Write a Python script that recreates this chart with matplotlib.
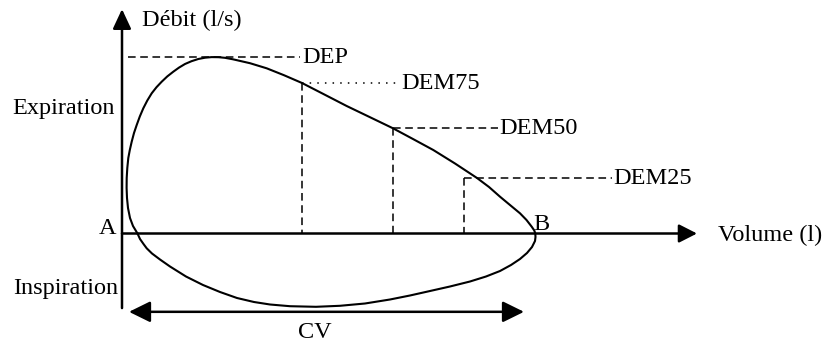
import matplotlib
matplotlib.use("Agg")
import matplotlib.pyplot as plt

plt.rcParams["font.family"] = ["Liberation Serif", "DejaVu Serif"]

# Courbe débit-volume (boucle), relevée sur le schéma
# expiration : de A vers B (au-dessus de l'axe), inspiration : de B vers A
volume = [0.155, 0.110, 0.080, 0.060, 0.050, 0.046, 0.047, 0.053, 0.063, 0.078,
          0.097, 0.120, 0.147, 0.178, 0.213, 0.253, 0.297, 0.345, 0.397, 0.453,
          0.513, 0.570, 0.630, 0.695, 0.763, 0.830, 0.897, 0.965, 1.030, 1.110,
          1.280, 1.447, 1.620, 1.800, 2.020, 2.247, 2.480, 2.710, 2.910, 3.113,
          3.330, 3.550, 3.670, 3.780, 3.880, 3.980, 4.045, 4.097, 4.123, 4.133,
          4.135, 4.130, 4.100, 4.050, 3.980, 3.890, 3.780, 3.640, 3.480, 3.280,
          3.080, 2.880, 2.680, 2.430, 2.180, 1.940, 1.680, 1.480, 1.320, 1.150,
          0.980, 0.810, 0.640, 0.480, 0.380, 0.300, 0.247, 0.215, 0.180, 0.155]
flow = [0.000, 0.341, 0.705, 1.159, 1.614, 2.068, 2.523, 2.977, 3.432, 3.795,
        4.173, 4.568, 4.932, 5.318, 5.691, 6.045, 6.373, 6.650, 6.900, 7.141,
        7.355, 7.541, 7.705, 7.832, 7.932, 7.991, 8.018, 8.014, 7.986, 7.918,
        7.741, 7.509, 7.195, 6.841, 6.327, 5.795, 5.286, 4.782, 4.295, 3.795,
        3.182, 2.523, 2.114, 1.673, 1.295, 0.918, 0.614, 0.309, 0.136, 0.000,
        -0.159, -0.341, -0.614, -0.886, -1.159, -1.432, -1.705, -1.955, -2.182, -2.409,
        -2.614, -2.818, -3.000, -3.182, -3.286, -3.332, -3.305, -3.227, -3.114, -2.932,
        -2.659, -2.341, -1.955, -1.500, -1.182, -0.909, -0.673, -0.477, -0.250, 0.000]

# débits mesurés (volume du point, débit)
dem_labels = ["DEM75", "DEM50", "DEM25"]
dem_volume = [1.80, 2.71, 3.42]
dem_flow = [6.84, 4.78, 2.52]
dem_line_end = [2.78, 3.76, 4.90]

dep = max(flow)

fig = plt.figure(figsize=(8.26, 3.42), dpi=100)
ax = fig.add_axes([0, 0, 1, 1])
ax.set_xlim(-1.22, 7.04)
ax.set_ylim(-4.932, 10.614)
ax.axis("off")

fs = 17.5

# axes avec flèches
ax.annotate("", xy=(0, 10.2), xytext=(0, -3.39),
            arrowprops=dict(arrowstyle="-|>,head_length=0.6,head_width=0.28",
                            mutation_scale=20, lw=1.8, color="black",
                            shrinkA=0, shrinkB=0))
ax.annotate("", xy=(5.75, 0), xytext=(0, 0),
            arrowprops=dict(arrowstyle="-|>,head_length=0.55,head_width=0.28",
                            mutation_scale=20, lw=1.8, color="black",
                            shrinkA=0, shrinkB=0))

# boucle
ax.plot(volume, flow, color="black", lw=1.5, solid_joinstyle="round")

# DEP
ax.plot([0.06, 1.78], [dep, dep], color="black", lw=1.1, ls=(0, (5, 3)))
ax.text(1.80, dep, "DEP", fontsize=fs, va="center", ha="left")

# DEM75 (pointillé), DEM50 et DEM25 (tirets)
for i, lab in enumerate(dem_labels):
    style = (0, (1, 4)) if i == 0 else (0, (5, 3))
    x0 = dem_volume[i]
    ax.plot([x0, dem_line_end[i]], [dem_flow[i], dem_flow[i]],
            color="black", lw=1.1, ls=style)
    ax.plot([x0, x0], [dem_flow[i], 0], color="black", lw=1.1, ls=(0, (5, 3)))
    ax.text(dem_line_end[i] + 0.01, dem_flow[i], lab, fontsize=fs,
            va="center", ha="left")

# CV
ax.annotate("", xy=(0.07, -3.56), xytext=(4.02, -3.56),
            arrowprops=dict(arrowstyle="<|-|>,head_length=0.65,head_width=0.32",
                            mutation_scale=20, lw=1.8, color="black",
                            shrinkA=0, shrinkB=0))
ax.text(1.93, -4.48, "CV", fontsize=fs, ha="center", va="center")

# libellés
ax.text(0.20, 9.70, "Débit (l/s)", fontsize=fs, ha="left", va="center")
ax.text(5.96, -0.07, "Volume (l)", fontsize=fs, ha="left", va="center")
ax.text(-0.07, 5.70, "Expiration", fontsize=fs, ha="right", va="center")
ax.text(-0.04, -2.52, "Inspiration", fontsize=fs, ha="right", va="center")
ax.text(-0.06, 0.25, "A", fontsize=fs, ha="right", va="center")
ax.text(4.11, 0.43, "B", fontsize=fs, ha="left", va="center")

fig.savefig("out.png", dpi=100)
